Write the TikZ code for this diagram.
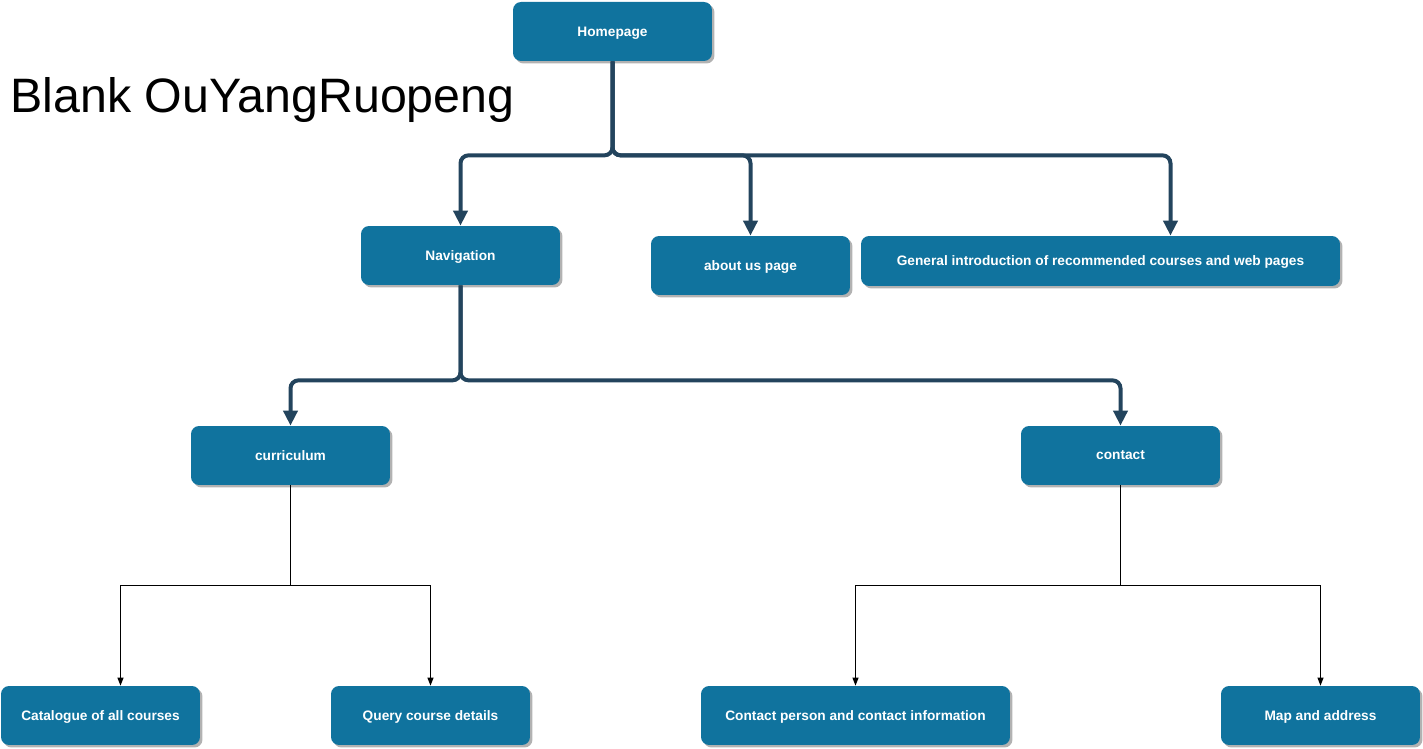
\documentclass[tikz,border=0pt]{standalone}
\usepackage{fontspec}
\setmainfont{Liberation Sans}
\usetikzlibrary{arrows.meta}
\usetikzlibrary{calc}
\usetikzlibrary{shadows}
\usepackage{xcolor}
\definecolor{boxblue}{HTML}{10739E}
\definecolor{linkdark}{HTML}{23445D}

\begin{document}
\begin{tikzpicture}[x=0.02cm,y=-0.02cm,
  main node/.style={rectangle,rounded corners=0.16cm,fill=boxblue,text=white,
    font=\fontsize{7.8}{9}\selectfont\bfseries,minimum width=3.98cm,minimum height=1.18cm,
    text depth=0pt,
    drop shadow={shadow xshift=0.05cm,shadow yshift=-0.05cm,fill=black!30,opacity=1}},
  thick link/.style={draw=linkdark,line width=0.08cm,rounded corners=0.16cm,
    -{Triangle[length=0.3cm,width=0.28cm]}},
  thin link/.style={draw=black,line width=0.02cm,-{Triangle[length=0.16cm,width=0.12cm]}}]

  \useasboundingbox (0,0) rectangle (1423,749);

  \node[font=\fontsize{27.5}{32}\selectfont,anchor=base west,inner sep=0pt] (title) at (10,113) {Blank OuYangRuopeng};

  \node[main node] (home) at (612.5,31.5) {Homepage};
  \node[main node] (nav) at (460.5,255.5) {Navigation};
  \node[main node] (about) at (750.5,265.5) {about us page};
  \node[main node,minimum width=9.58cm,minimum height=1.0cm] (intro) at (1100.5,261) {General introduction of recommended courses and web pages};
  \node[main node] (curr) at (290.5,455.5) {curriculum};
  \node[main node] (cont) at (1120.5,455.5) {contact};
  \node[main node] (cat) at (100.5,715.5) {Catalogue of all courses};
  \node[main node] (query) at (430.5,715.5) {Query course details};
  \node[main node,minimum width=6.18cm] (person) at (855.5,715.5) {Contact person and contact information};
  \node[main node] (map) at (1320.5,715.5) {Map and address};

  % homepage tree
  \draw[thick link] (home.south) -- ++(0,94) -| (nav.north);
  \draw[thick link] (home.south) -- ++(0,94) -| (about.north);
  \draw[thick link] (home.south) -- ++(0,94) -| ([xshift=1.4cm]intro.north);

  % navigation tree
  \draw[thick link] (nav.south) -- ++(0,95) -| (curr.north);
  \draw[thick link] (nav.south) -- ++(0,95) -| (cont.north);

  % leaves
  \draw[thin link] (curr.south) -- ++(0,100) -| ([xshift=0.4cm]cat.north);
  \draw[thin link] (curr.south) -- ++(0,100) -| (query.north);
  \draw[thin link] (cont.south) -- ++(0,100) -| (person.north);
  \draw[thin link] (cont.south) -- ++(0,100) -| (map.north);
\end{tikzpicture}
\end{document}
